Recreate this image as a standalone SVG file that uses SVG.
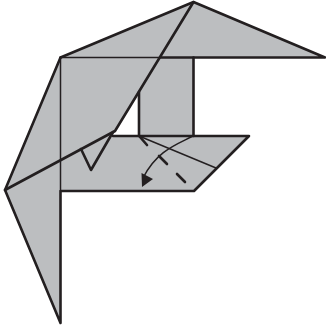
<svg xmlns="http://www.w3.org/2000/svg" width="326" height="328" viewBox="0 0 326 328">
<style>
.f{fill:#bcbec0;stroke:none}
.k{fill:none;stroke:#231f20;stroke-width:2.6;stroke-linecap:round;stroke-linejoin:round}
.m{fill:none;stroke:#231f20;stroke-width:1.5}
</style>
<g id="paper">
<path class="f" d="M193.5 2L325 57.5H193.5V136H249L194 191H60.5V323L5 190L60.500 57.5Z"/>
<path d="M139 92V136H113L115 131Z" fill="#fff"/>
</g>
<g id="folds">
<path class="k" d="M60.500 57.500L193.500 2L325 57.500H160.500"/>
<path class="k" d="M193.500 2L115 131L5 190L60.500 323V191H194L249 136H113"/>
<path class="k" d="M60.500 57.500L5 190"/>
<path class="k" d="M193.500 57.500V136"/>
<path class="k" d="M139 92V136"/>
<path class="k" d="M81 149L91 170L113 132"/>
<path class="m" d="M60.500 57.500H160M60.500 57.500V191"/>
<path class="m" d="M139 136L216 168"/>
</g>
<g id="arrow">
<path class="m" d="M193 136C178 144 157 150 143 178"/>
<path d="M141.500 173L153 179L142 187Z" fill="#231f20"/>
<path class="k" d="M140 137L147 145M159 156L167 164M177 174L185 182"/>
</g>
</svg>
